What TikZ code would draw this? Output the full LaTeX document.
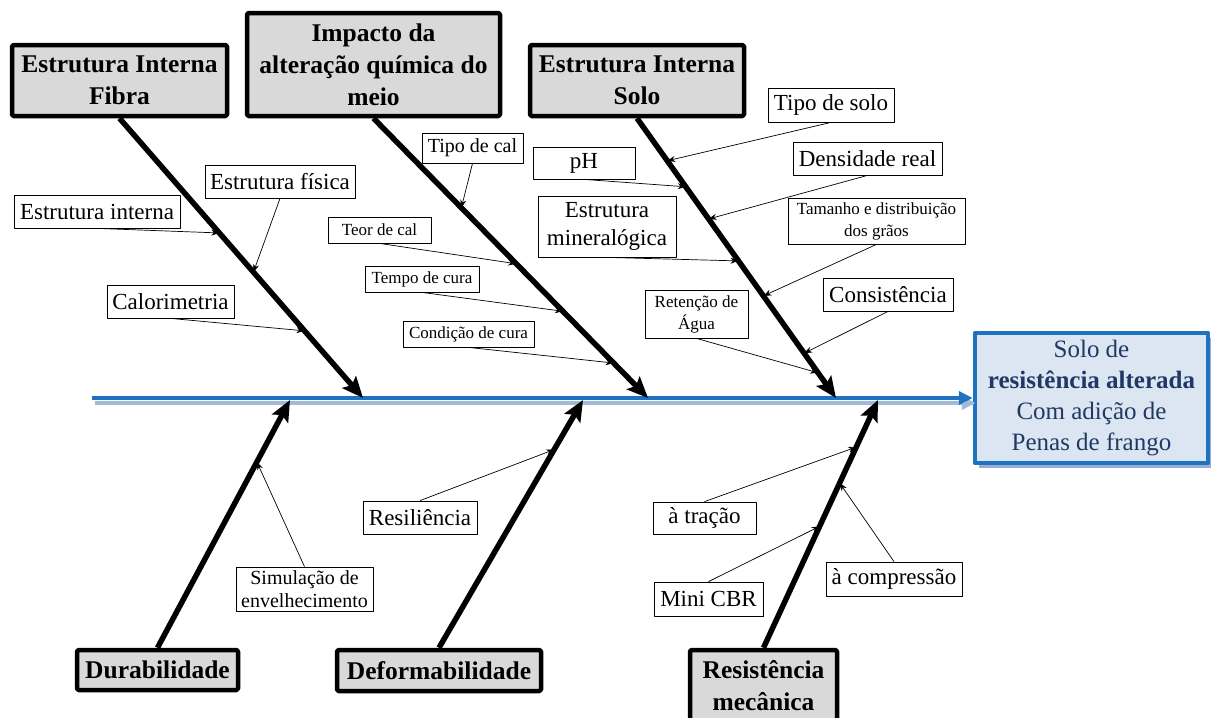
\documentclass[tikz,border=0pt]{standalone}
\usepackage{fontspec}
\setmainfont{Liberation Serif}
\usetikzlibrary{arrows.meta,calc,shadows}
\definecolor{spine}{RGB}{31,114,192}
\definecolor{spineshadow}{RGB}{160,186,220}
\definecolor{efill}{RGB}{220,230,242}
\definecolor{eshadow}{RGB}{150,175,210}
\definecolor{etext}{RGB}{31,56,100}
\definecolor{catfill}{RGB}{217,217,217}
\begin{document}
\begin{tikzpicture}[x=1pt, y=-1pt, line join=round,
	cat/.style={draw, line width=4.5pt, fill=catfill, rounded corners=1.5pt, inner sep=0pt, align=center, font=\fontsize{25.5}{32}\selectfont\bfseries},
	sub/.style={draw, line width=0.8pt, fill=white, inner sep=0pt, align=center, font=\fontsize{23}{28}\selectfont},
	small/.style={sub, font=\fontsize{17}{22}\selectfont},
	bone/.style={line width=5.5pt, -{Stealth[length=21pt,width=18pt,inset=4pt]}},
	twig/.style={line width=0.7pt, -{Stealth[length=8pt,width=6pt]}}]
	\useasboundingbox (0,0) rectangle (1211,718);
	% categorias
	\node[cat, minimum width=215pt, minimum height=71pt] (fibra) at (119.5,80.5) {Estrutura Interna\\Fibra};
	\node[cat, minimum width=253pt, minimum height=103pt] (impacto) at (373.5,64.5) {Impacto da\\alteração química do\\meio};
	\node[cat, minimum width=214pt, minimum height=71pt] (solo) at (637,80.5) {Estrutura Interna\\Solo};
	\node[cat, minimum width=161pt, minimum height=40pt] (durab) at (157.5,670) {Durabilidade};
	\node[cat, minimum width=204pt, minimum height=41pt] (deform) at (439,670.5) {Deformabilidade};
	\node[cat, minimum width=147pt, minimum height=72pt] (resist) at (763.5,686) {Resistência\\mecânica};
	% efeito
	\node[draw=spine, line width=4.5pt, fill=efill, text=etext, inner sep=0pt, minimum width=233pt, minimum height=130pt, align=center, font=\fontsize{25}{31}\selectfont, drop shadow={shadow xshift=4pt, shadow yshift=-5pt, fill=eshadow, opacity=1}] (efeito) at (1091.5,398) {\raisebox{-3pt}{\parbox{230pt}{\centering Solo de\\\textbf{resistência alterada}\\Com adição de\\Penas de frango}}};
	% espinha
	\coordinate (cauda) at (92,398);
	\coordinate (sombra) at (95,403);
	\draw[spineshadow, line width=4pt, -{Triangle[length=14pt,width=13pt]}] (sombra) -- ($(efeito.west)+(3,5)$);
	\draw[spine, line width=4pt, -{Triangle[length=14pt,width=13pt]}] (cauda) -- (efeito.west);
	\coordinate (tfib) at (363,398);
	\coordinate (timp) at (648,398);
	\coordinate (tsol) at (836,398);
	\coordinate (tdur) at (290,400);
	\coordinate (tdef) at (583,400);
	\coordinate (tres) at (878,400);
	\draw[bone] (fibra.south) -- (tfib);
	\draw[bone] (impacto.south) -- (timp);
	\draw[bone] (solo.south) -- (tsol);
	\draw[bone] (durab.north) -- (tdur);
	\draw[bone] (deform.north) -- (tdef);
	\draw[bone] (resist.north) -- (tres);
	% causas
	\node[sub, minimum width=166pt, minimum height=33pt] (einterna) at (97,211.5) {Estrutura interna};
	\node[sub, minimum width=150pt, minimum height=33pt] (efisica) at (280,181.5) {Estrutura física};
	\node[sub, minimum width=127pt, minimum height=33pt] (calor) at (170.5,301.5) {Calorimetria};
	\node[sub, minimum width=101pt, minimum height=30pt, font=\fontsize{20}{24}\selectfont] (tcal) at (472.5,148) {Tipo de cal};
	\node[small, minimum width=103pt, minimum height=26pt] (teor) at (379.5,230) {Teor de cal};
	\node[small, minimum width=114pt, minimum height=26pt] (tempo) at (422,279) {Tempo de cura};
	\node[small, minimum width=131pt, minimum height=26pt] (cond) at (468.5,334) {Condição de cura};
	\node[sub, minimum width=102pt, minimum height=32pt] (ph) at (584,163) {pH};
	\node[sub, minimum width=138pt, minimum height=61pt] (miner) at (607,226.5) {Estrutura\\mineralógica};
	\node[small, minimum width=103pt, minimum height=48pt] (ret) at (696.5,314) {Retenção de\\Água};
	\node[sub, minimum width=126pt, minimum height=34pt] (tsolo) at (831,105) {Tipo de solo};
	\node[sub, minimum width=149pt, minimum height=33pt] (dens) at (867.5,158.5) {Densidade real};
	\node[small, minimum width=177pt, minimum height=46pt] (tam) at (876.5,221) {Tamanho e distribuição\\dos grãos};
	\node[sub, minimum width=130pt, minimum height=33pt] (cons) at (888,294.5) {Consistência};
	\node[sub, minimum width=137pt, minimum height=44pt, font=\fontsize{20}{23}\selectfont] (sim) at (304.5,589) {Simulação de\\envelhecimento};
	\node[sub, minimum width=114pt, minimum height=33pt] (resil) at (420,517.5) {Resiliência};
	\node[sub, minimum width=103pt, minimum height=32pt] (trac) at (704.5,518) {à tração};
	\node[sub, minimum width=109pt, minimum height=34pt] (cbr) at (708.5,599) {Mini CBR};
	\node[sub, minimum width=136pt, minimum height=34pt] (comp) at (894,579) {à compressão};
	% setas
	\draw[twig] (einterna.south) -- ($(fibra.south)!0.41!(tfib)$);
	\draw[twig] (efisica.south) -- ($(fibra.south)!0.55!(tfib)$);
	\draw[twig] (calor.south) -- ($(fibra.south)!0.76!(tfib)$);
	\draw[twig] (tcal.south) -- ($(impacto.south)!0.32!(timp)$);
	\draw[twig] (teor.south) -- ($(impacto.south)!0.52!(timp)$);
	\draw[twig] (tempo.south) -- ($(impacto.south)!0.69!(timp)$);
	\draw[twig] (cond.south) -- ($(impacto.south)!0.875!(timp)$);
	\draw[twig] (tsolo.south) -- ($(solo.south)!0.152!(tsol)$);
	\draw[twig] (ph.south) -- ($(solo.south)!0.245!(tsol)$);
	\draw[twig] (dens.south) -- ($(solo.south)!0.36!(tsol)$);
	\draw[twig] (miner.south) -- ($(solo.south)!0.51!(tsol)$);
	\draw[twig] (tam.south) -- ($(solo.south)!0.635!(tsol)$);
	\draw[twig] (cons.south) -- ($(solo.south)!0.84!(tsol)$);
	\draw[twig] (ret.south) -- ($(solo.south)!0.91!(tsol)$);
	\draw[twig] (sim.north) -- ($(durab.north)!0.75!(tdur)$);
	\draw[twig] (resil.north) -- ($(deform.north)!0.8!(tdef)$);
	\draw[twig] (trac.north) -- ($(resist.north)!0.81!(tres)$);
	\draw[twig] (cbr.north) -- ($(resist.north)!0.49!(tres)$);
	\draw[twig] (comp.north) -- ($(resist.north)!0.665!(tres)$);
\end{tikzpicture}
\end{document}
